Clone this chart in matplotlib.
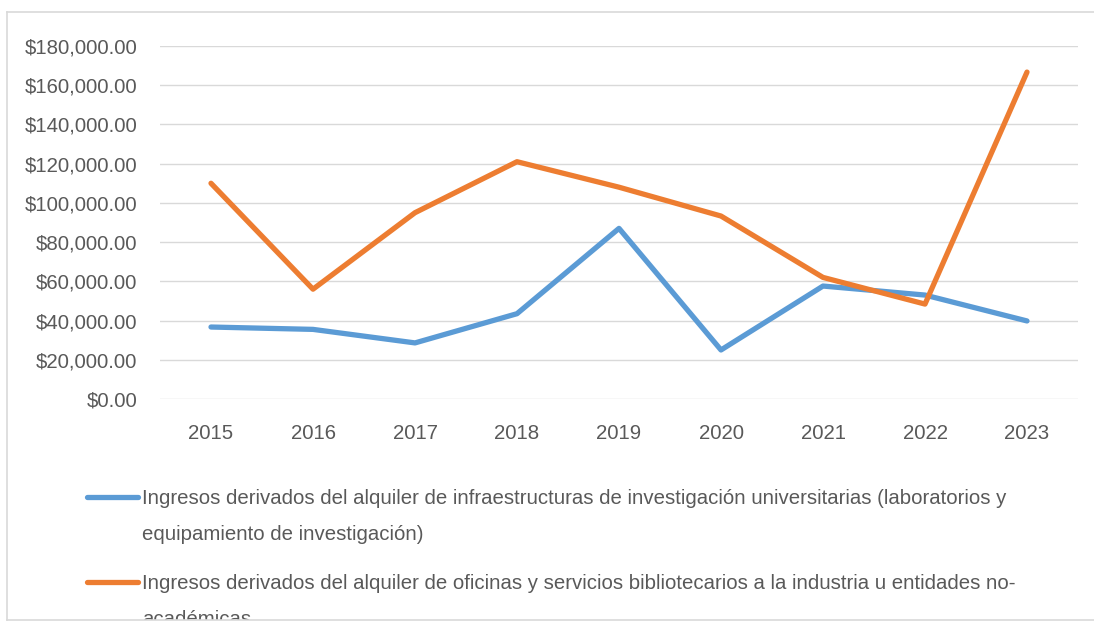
import matplotlib
matplotlib.use("Agg")
import matplotlib.pyplot as plt
from matplotlib.lines import Line2D
from matplotlib.patches import Rectangle
from matplotlib.ticker import FuncFormatter

plt.rcParams['font.family'] = ['Liberation Sans', 'DejaVu Sans']

years = ["2015", "2016", "2017", "2018", "2019", "2020", "2021", "2022", "2023"]
infraestructuras = [36700, 35500, 28600, 43500, 87000, 25000, 57600, 53000, 39800]
oficinas = [110000, 56000, 95000, 121000, 108000, 93300, 62000, 48400, 166700]
label_infra = ["Ingresos derivados del alquiler de infraestructuras de investigación universitarias (laboratorios y",
               "equipamiento de investigación)"]
label_ofi = ["Ingresos derivados del alquiler de oficinas y servicios bibliotecarios a la industria u entidades no-",
             "académicas"]

W, H = 1094, 622
fig = plt.figure(figsize=(W / 100, H / 100), dpi=100)
ax = fig.add_axes([160 / W, 1 - 399 / H, (1078 - 160) / W, (399 - 46) / H])

blue = "#5B9BD5"
orange = "#ED7D31"
txt = "#595959"
fs = 14.7

x = list(range(len(years)))
ax.plot(x, infraestructuras, color=blue, lw=3.8, solid_capstyle='round', solid_joinstyle='round', zorder=3)
ax.plot(x, oficinas, color=orange, lw=3.8, solid_capstyle='round', solid_joinstyle='round', zorder=4)

ax.set_xlim(-0.5, len(years) - 0.5)
ax.set_ylim(0, 180000)
ax.set_yticks(range(0, 180001, 20000))
ax.yaxis.set_major_formatter(FuncFormatter(lambda v, p: f"${v:,.2f}"))
ax.set_xticks(x)
ax.set_xticklabels(years)
ax.grid(axis='y', color="#D9D9D9", lw=1.0)
ax.set_axisbelow(True)
for s in ax.spines.values():
    s.set_visible(False)
ax.tick_params(axis='both', length=0, colors=txt, labelsize=fs)
ax.tick_params(axis='y', pad=16.5)
ax.tick_params(axis='x', pad=18)

# legend (manual, Excel style)
def fx(px):
    return px / W
def fy(py):
    return 1 - py / H

for col, lines, ypx in [(blue, label_infra, 497), (orange, label_ofi, 582)]:
    fig.add_artist(Line2D([fx(87), fx(138)], [fy(ypx), fy(ypx)], color=col, lw=3.8,
                          solid_capstyle='round', transform=fig.transFigure))
    for i, line in enumerate(lines):
        fig.text(fx(142), fy(ypx + 7 + 36 * i), line, ha='left', va='baseline', color=txt, fontsize=fs)

# chart frame
fig.add_artist(Rectangle((0, 0), 1, fy(620), transform=fig.transFigure, facecolor='white',
                         edgecolor='none', zorder=10))
fig.add_artist(Line2D([fx(7), fx(7)], [fy(12), fy(620)], color="#D9D9D9", lw=1.2, transform=fig.transFigure, zorder=11))
fig.add_artist(Line2D([fx(7), 1], [fy(12), fy(12)], color="#D9D9D9", lw=1.2, transform=fig.transFigure, zorder=11))
fig.add_artist(Line2D([fx(7), 1], [fy(620), fy(620)], color="#D9D9D9", lw=1.2, transform=fig.transFigure, zorder=11))

fig.savefig("out.png", dpi=100)
